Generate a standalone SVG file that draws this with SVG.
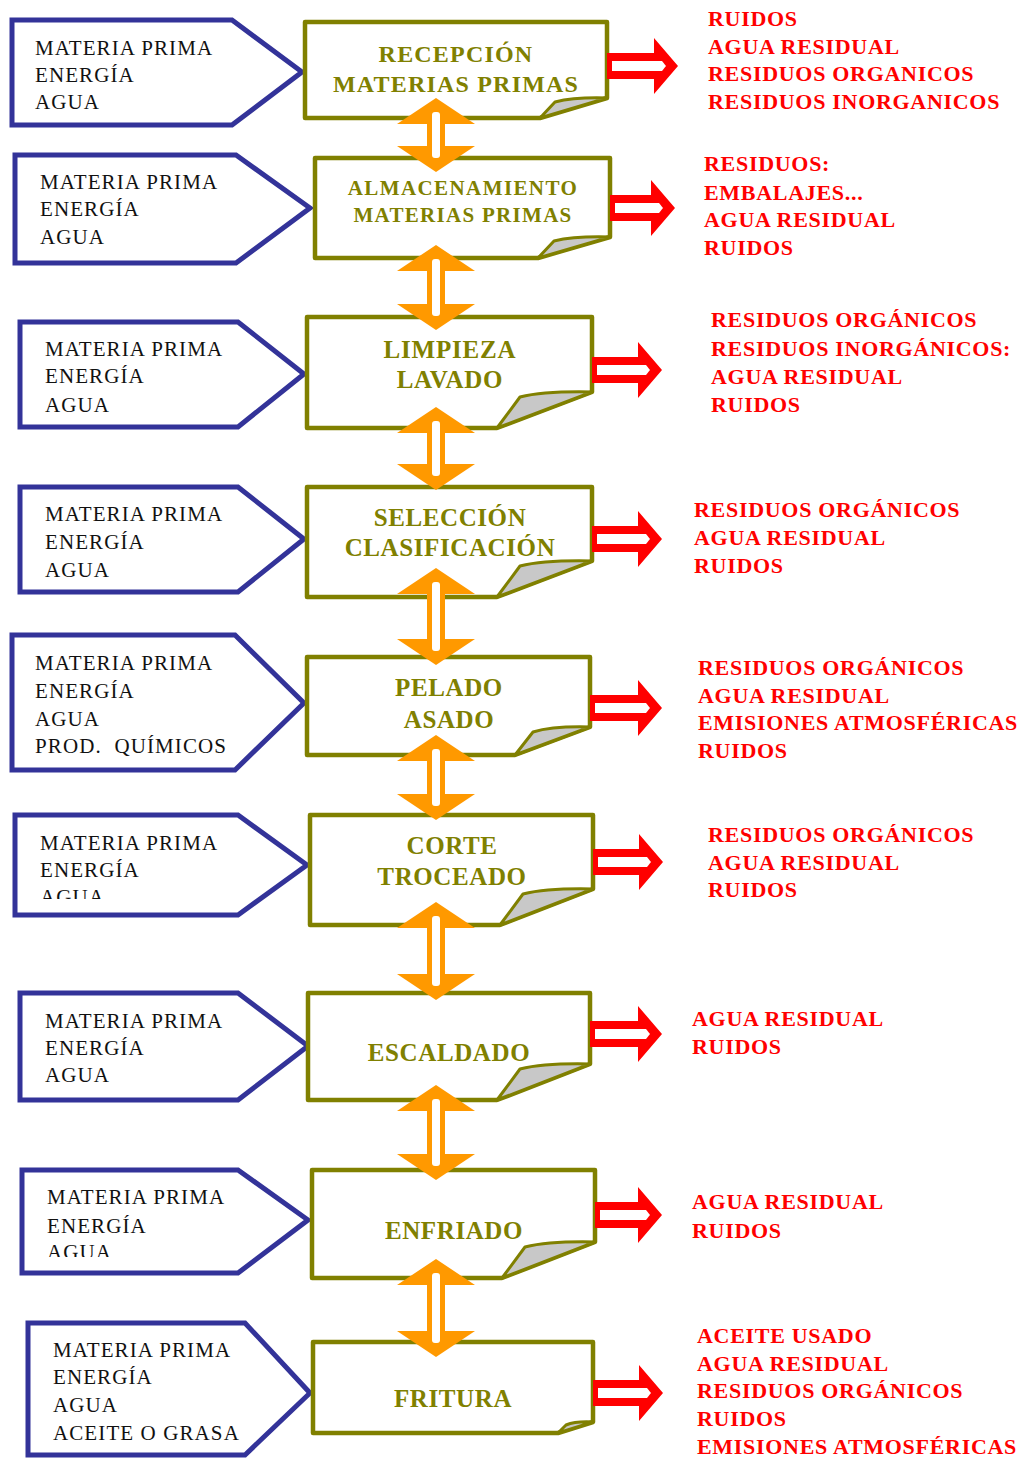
<svg xmlns="http://www.w3.org/2000/svg" width="1025" height="1458" viewBox="0 0 1025 1458">
<style>
.pent{fill:#fff;stroke:#333399;stroke-width:5}
.box{fill:#fff;stroke:#808000;stroke-width:4.5;stroke-linejoin:round}
.fold{fill:#c8c8c8;stroke:#808000;stroke-width:3;stroke-linejoin:round}
text{font-family:'Liberation Serif','Times New Roman',Tinos,'DejaVu Serif',serif}
.in{font-size:21px;letter-spacing:1.1px;fill:#111}
.proc{font-weight:bold;font-size:25px;letter-spacing:0.6px;fill:#808000;text-anchor:middle}
.out{font-weight:bold;font-size:22px;letter-spacing:0.7px;fill:#ff0000}
.dbl{fill:#ff9900}
.red{fill:#ff0000}
.hole{fill:#fff}
</style>
<defs>
<clipPath id="c6"><rect x="0" y="800" width="310" height="99"/></clipPath>
<clipPath id="c8"><rect x="0" y="1160" width="310" height="97"/></clipPath>
</defs>

<g id="in1"><path class="pent" d="M12,20 H232 L302,72 L232,125 H12 Z"/>
<text class="in" x="35" y="55">MATERIA PRIMA</text><text class="in" x="35" y="82">ENERGÍA</text><text class="in" x="35" y="109">AGUA</text></g>
<g id="in2"><path class="pent" d="M15,155 H236 L310,208 L236,263 H15 Z"/>
<text class="in" x="40" y="189">MATERIA PRIMA</text><text class="in" x="40" y="216">ENERGÍA</text><text class="in" x="40" y="244">AGUA</text></g>
<g id="in3"><path class="pent" d="M20,322 H238 L304,374 L238,427 H20 Z"/>
<text class="in" x="45" y="356">MATERIA PRIMA</text><text class="in" x="45" y="383">ENERGÍA</text><text class="in" x="45" y="412">AGUA</text></g>
<g id="in4"><path class="pent" d="M20,487 H238 L304,539 L238,592 H20 Z"/>
<text class="in" x="45" y="521">MATERIA PRIMA</text><text class="in" x="45" y="549">ENERGÍA</text><text class="in" x="45" y="577">AGUA</text></g>
<g id="in5"><path class="pent" d="M12,635 H235 L304,703 L235,770 H12 Z"/>
<text class="in" x="35" y="670">MATERIA PRIMA</text><text class="in" x="35" y="698">ENERGÍA</text><text class="in" x="35" y="726">AGUA</text><text class="in" x="35" y="753" xml:space="preserve">PROD.  QUÍMICOS</text></g>
<g id="in6"><path class="pent" d="M15,815 H238 L307,865 L238,915 H15 Z"/>
<g clip-path="url(#c6)"><text class="in" x="40" y="850">MATERIA PRIMA</text><text class="in" x="40" y="877">ENERGÍA</text><text class="in" x="40" y="904">AGUA</text></g></g>
<g id="in7"><path class="pent" d="M20,993 H238 L308,1046 L238,1100 H20 Z"/>
<text class="in" x="45" y="1028">MATERIA PRIMA</text><text class="in" x="45" y="1055">ENERGÍA</text><text class="in" x="45" y="1082">AGUA</text></g>
<g id="in8"><path class="pent" d="M22,1170 H238 L308,1220 L238,1273 H22 Z"/>
<g clip-path="url(#c8)"><text class="in" x="47" y="1204">MATERIA PRIMA</text><text class="in" x="47" y="1233">ENERGÍA</text><text class="in" x="47" y="1259">AGUA</text></g></g>
<g id="in9"><path class="pent" d="M28,1323 H245 L310,1393 L245,1455 H28 Z"/>
<text class="in" x="53" y="1357">MATERIA PRIMA</text><text class="in" x="53" y="1384">ENERGÍA</text><text class="in" x="53" y="1412">AGUA</text><text class="in" x="53" y="1440">ACEITE O GRASA</text></g>

<g id="p1"><path class="box" d="M305,22 H607 V98 L540,118 H305 Z"/><path class="fold" d="M540,118 L555,102 Q575,97 607,98 Z"/>
<text class="proc" x="456" y="62" style="font-size:24px;letter-spacing:1.2px">RECEPCIÓN</text><text class="proc" x="456" y="92" style="font-size:24px;letter-spacing:1.2px">MATERIAS PRIMAS</text></g>
<g id="p2"><path class="box" d="M315,158 H610 V237 L538,258 H315 Z"/><path class="fold" d="M538,258 L554,241 Q575,236 610,237 Z"/>
<text class="proc" x="463" y="195" style="font-size:21px;letter-spacing:1.4px">ALMACENAMIENTO</text><text class="proc" x="463" y="222" style="font-size:21px;letter-spacing:1.3px">MATERIAS PRIMAS</text></g>
<g id="p3"><path class="box" d="M307,317 H592 V392 L497,428 H307 Z"/><path class="fold" d="M497,428 L520,397 Q545,391 592,392 Z"/>
<text class="proc" x="450" y="358" style="letter-spacing:0.8px">LIMPIEZA</text><text class="proc" x="450" y="388" style="letter-spacing:0.8px">LAVADO</text></g>
<g id="p4"><path class="box" d="M307,487 H592 V561 L497,597 H307 Z"/><path class="fold" d="M497,597 L520,566 Q545,560 592,561 Z"/>
<text class="proc" x="450" y="526">SELECCIÓN</text><text class="proc" x="450" y="556">CLASIFICACIÓN</text></g>
<g id="p5"><path class="box" d="M307,657 H590 V727 L515,755 H307 Z"/><path class="fold" d="M515,755 L533,732 Q553,726 590,727 Z"/>
<text class="proc" x="449" y="696">PELADO</text><text class="proc" x="449" y="728">ASADO</text></g>
<g id="p6"><path class="box" d="M310,815 H593 V889 L500,925 H310 Z"/><path class="fold" d="M500,925 L523,894 Q548,888 593,889 Z"/>
<text class="proc" x="452" y="854">CORTE</text><text class="proc" x="452" y="885">TROCEADO</text></g>
<g id="p7"><path class="box" d="M308,993 H590 V1064 L497,1100 H308 Z"/><path class="fold" d="M497,1100 L520,1069 Q545,1063 590,1064 Z"/>
<text class="proc" x="449" y="1061">ESCALDADO</text></g>
<g id="p8"><path class="box" d="M312,1170 H595 V1242 L502,1278 H312 Z"/><path class="fold" d="M502,1278 L525,1247 Q550,1241 595,1242 Z"/>
<text class="proc" x="454" y="1239">ENFRIADO</text></g>
<g id="p9"><path class="box" d="M313,1342 H593 V1422 L558,1433 H313 Z"/><path class="fold" d="M558,1433 L566,1425 Q576,1421 593,1422 Z"/>
<text class="proc" x="453" y="1407">FRITURA</text></g>

<g id="o1"><text class="out" x="708" y="26">RUIDOS</text><text class="out" x="708" y="54">AGUA RESIDUAL</text><text class="out" x="708" y="81">RESIDUOS ORGANICOS</text><text class="out" x="708" y="109">RESIDUOS INORGANICOS</text></g>
<g id="o2"><text class="out" x="704" y="171">RESIDUOS:</text><text class="out" x="704" y="200">EMBALAJES...</text><text class="out" x="704" y="227">AGUA RESIDUAL</text><text class="out" x="704" y="255">RUIDOS</text></g>
<g id="o3"><text class="out" x="711" y="327">RESIDUOS ORGÁNICOS</text><text class="out" x="711" y="356">RESIDUOS INORGÁNICOS:</text><text class="out" x="711" y="384">AGUA RESIDUAL</text><text class="out" x="711" y="412">RUIDOS</text></g>
<g id="o4"><text class="out" x="694" y="517">RESIDUOS ORGÁNICOS</text><text class="out" x="694" y="545">AGUA RESIDUAL</text><text class="out" x="694" y="573">RUIDOS</text></g>
<g id="o5"><text class="out" x="698" y="675">RESIDUOS ORGÁNICOS</text><text class="out" x="698" y="703">AGUA RESIDUAL</text><text class="out" x="698" y="730">EMISIONES ATMOSFÉRICAS</text><text class="out" x="698" y="758">RUIDOS</text></g>
<g id="o6"><text class="out" x="708" y="842">RESIDUOS ORGÁNICOS</text><text class="out" x="708" y="870">AGUA RESIDUAL</text><text class="out" x="708" y="897">RUIDOS</text></g>
<g id="o7"><text class="out" x="692" y="1026">AGUA RESIDUAL</text><text class="out" x="692" y="1054">RUIDOS</text></g>
<g id="o8"><text class="out" x="692" y="1209">AGUA RESIDUAL</text><text class="out" x="692" y="1238">RUIDOS</text></g>
<g id="o9"><text class="out" x="697" y="1343">ACEITE USADO</text><text class="out" x="697" y="1371">AGUA RESIDUAL</text><text class="out" x="697" y="1398">RESIDUOS ORGÁNICOS</text><text class="out" x="697" y="1426">RUIDOS</text><text class="out" x="697" y="1454">EMISIONES ATMOSFÉRICAS</text></g>

<g id="connectors">
<g id="red-arrows">
<polygon class="red" points="607,53 654,53 654,38 678,66 654,94 654,79 607,79"/><polygon class="hole" points="612,61 662,61 666,66 662,71 612,71"/>
<polygon class="red" points="610,195 651,195 651,180 675,208 651,236 651,221 610,221"/><polygon class="hole" points="615,203 659,203 663,208 659,213 615,213"/>
<polygon class="red" points="592,357 638,357 638,342 662,370 638,398 638,383 592,383"/><polygon class="hole" points="597,365 646,365 650,370 646,375 597,375"/>
<polygon class="red" points="592,526 638,526 638,511 662,539 638,567 638,552 592,552"/><polygon class="hole" points="597,534 646,534 650,539 646,544 597,544"/>
<polygon class="red" points="590,695 638,695 638,680 662,708 638,736 638,721 590,721"/><polygon class="hole" points="595,703 646,703 650,708 646,713 595,713"/>
<polygon class="red" points="593,849 639,849 639,834 663,862 639,890 639,875 593,875"/><polygon class="hole" points="598,857 647,857 651,862 647,867 598,867"/>
<polygon class="red" points="590,1021 638,1021 638,1006 662,1034 638,1062 638,1047 590,1047"/><polygon class="hole" points="595,1029 646,1029 650,1034 646,1039 595,1039"/>
<polygon class="red" points="595,1202 638,1202 638,1187 662,1215 638,1243 638,1228 595,1228"/><polygon class="hole" points="600,1210 646,1210 650,1215 646,1220 600,1220"/>
<polygon class="red" points="593,1380 639,1380 639,1365 663,1393 639,1421 639,1406 593,1406"/><polygon class="hole" points="598,1388 647,1388 651,1393 647,1398 598,1398"/>
</g>
<g id="flow-arrows">
<polygon class="dbl" points="436,98 475,124 445,124 445,146 475,146 436,172 397,146 427,146 427,124 397,124"/><rect class="hole" x="432" y="112" width="8" height="46" rx="3"/>
<polygon class="dbl" points="436,245 475,271 445,271 445,304 475,304 436,330 397,304 427,304 427,271 397,271"/><rect class="hole" x="432" y="259" width="8" height="57" rx="3"/>
<polygon class="dbl" points="436,407 475,433 445,433 445,464 475,464 436,490 397,464 427,464 427,433 397,433"/><rect class="hole" x="432" y="421" width="8" height="55" rx="3"/>
<polygon class="dbl" points="436,568 475,594 445,594 445,639 475,639 436,665 397,639 427,639 427,594 397,594"/><rect class="hole" x="432" y="582" width="8" height="69" rx="3"/>
<polygon class="dbl" points="436,735 475,761 445,761 445,794 475,794 436,820 397,794 427,794 427,761 397,761"/><rect class="hole" x="432" y="749" width="8" height="57" rx="3"/>
<polygon class="dbl" points="436,902 475,928 445,928 445,974 475,974 436,1000 397,974 427,974 427,928 397,928"/><rect class="hole" x="432" y="916" width="8" height="70" rx="3"/>
<polygon class="dbl" points="436,1085 475,1111 445,1111 445,1154 475,1154 436,1180 397,1154 427,1154 427,1111 397,1111"/><rect class="hole" x="432" y="1099" width="8" height="67" rx="3"/>
<polygon class="dbl" points="436,1259 475,1285 445,1285 445,1331 475,1331 436,1357 397,1331 427,1331 427,1285 397,1285"/><rect class="hole" x="432" y="1273" width="8" height="70" rx="3"/>
</g>
</g>
</svg>
